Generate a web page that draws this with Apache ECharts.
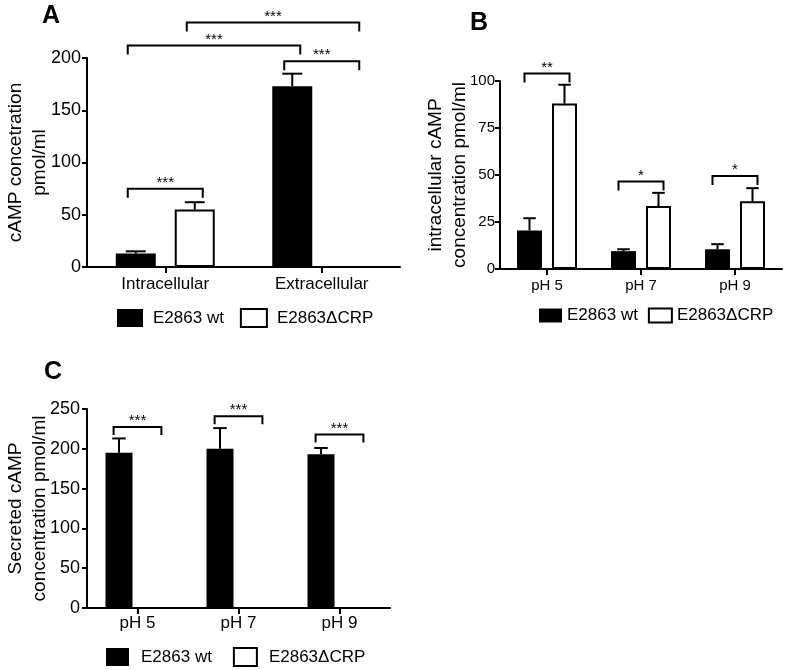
<!DOCTYPE html>
<html>
<head>
<meta charset="utf-8">
<script src="https://cdn.jsdelivr.net/npm/echarts@6/dist/echarts.min.js"></script>
<style>
html,body{margin:0;padding:0;background:#fff;}
#chart{width:789px;height:670px;}
</style>
</head>
<body>
<div id="chart"></div>
<script>
// ---------- data ----------
const seriesNames = ['E2863 wt', 'E2863\u0394CRP'];

// Panel A
const catsA = ['Intracellular', 'Extracellular'];
const wtA = [13, 173];
const wtErrA = [2, 12];
const crpA = [55, 0];
const crpErrA = [7, 0];
const ticksA = [0, 50, 100, 150, 200];
// significance: [fromCat, fromSeries, toCat, toSeries, level, label]
const sigA = [
  [0, 0, 0, 1, 75, '***'],
  [0, 0, 1, 0, 212, '***'],
  [0, 1, 1, 1, 234, '***'],
  [1, 0, 1, 1, 197, '***']
];

// Panel B
const catsB = ['pH 5', 'pH 7', 'pH 9'];
const wtB = [20.5, 9.5, 10.5];
const wtErrB = [6.5, 1, 2.7];
const crpB = [88, 33.5, 36];
const crpErrB = [10, 7, 7];
const ticksB = [0, 25, 50, 75, 100];
const sigB = [
  [0, 0, 0, 1, 104, '**'],
  [1, 0, 1, 1, 46.5, '*'],
  [2, 0, 2, 1, 49.5, '*']
];

// Panel C
const catsC = ['pH 5', 'pH 7', 'pH 9'];
const wtC = [195, 200, 193];
const wtErrC = [18, 26, 8];
const crpC = [0, 0, 0];
const crpErrC = [0, 0, 0];
const ticksC = [0, 50, 100, 150, 200, 250];
const sigC = [
  [0, 0, 0, 1, 227.5, '***'],
  [1, 0, 1, 1, 241, '***'],
  [2, 0, 2, 1, 218, '***']
];

// ---------- helpers ----------
const FONT = 'Liberation Sans, Arial, Helvetica, sans-serif';
const BLACK = '#000';

function errData(wt, wtErr, crp, crpErr) {
  const d = [];
  wt.forEach((v, i) => d.push([i, 0, v, wtErr[i]]));
  crp.forEach((v, i) => d.push([i, 1, v, crpErr[i]]));
  return d;
}

function errRender(w, gap) {
  return function (params, api) {
    const cat = api.value(0), s = api.value(1), v = api.value(2), e = api.value(3);
    if (!e) return null;
    const base = api.coord([cat, v]);
    const top = api.coord([cat, v + e]);
    const x = base[0] + (s === 0 ? -1 : 1) * (w + gap) / 2;
    const half = w / 4;
    return {
      type: 'group',
      children: [
        {type: 'line', shape: {x1: x, y1: base[1], x2: x, y2: top[1]}, style: {stroke: BLACK, lineWidth: 2}},
        {type: 'line', shape: {x1: x - half, y1: top[1], x2: x + half, y2: top[1]}, style: {stroke: BLACK, lineWidth: 2}}
      ]
    };
  };
}

function sigRender(w, gap, drop, labels) {
  return function (params, api) {
    const c0 = api.value(0), s0 = api.value(1), c1 = api.value(2), s1 = api.value(3), lv = api.value(4);
    const off = (w + gap) / 2;
    const ext = w * 0.2;
    const p0 = api.coord([c0, lv]);
    const p1 = api.coord([c1, lv]);
    const x0 = p0[0] + (s0 === 0 ? -off : off) - ext;
    const x1 = p1[0] + (s1 === 0 ? -off : off) + ext;
    const y = p0[1];
    return {
      type: 'group',
      children: [
        {type: 'polyline', shape: {points: [[x0, y + drop], [x0, y], [x1, y], [x1, y + drop]]},
          style: {stroke: BLACK, lineWidth: 2, fill: null}},
        {type: 'text', x: (x0 + x1) / 2, y: y - 6,
          style: {text: labels[params.dataIndex], fill: BLACK, font: '15px ' + FONT, align: 'center', verticalAlign: 'middle'}}
      ]
    };
  };
}

function xAx(idx, cats, fontSize, margin) {
  return {
    type: 'category', gridIndex: idx, data: cats,
    axisLine: {lineStyle: {color: BLACK, width: 2}},
    axisTick: {show: true, alignWithLabel: true, length: 6, lineStyle: {color: BLACK, width: 2}},
    axisLabel: {color: BLACK, fontSize: fontSize, fontFamily: FONT, margin: margin, interval: 0},
    splitLine: {show: false}
  };
}

function yAx(idx, ticks, name, nameGap, fontSize, margin) {
  return {
    type: 'value', gridIndex: idx,
    min: ticks[0], max: ticks[ticks.length - 1], interval: ticks[1] - ticks[0],
    name: name, nameLocation: 'middle', nameGap: nameGap, nameRotate: 90,
    nameMoveOverlap: false,
    nameTextStyle: {color: BLACK, fontSize: 19, fontFamily: FONT, lineHeight: 24},
    axisLine: {show: true, lineStyle: {color: BLACK, width: 2}},
    axisTick: {show: true, length: 5, lineStyle: {color: BLACK, width: 2}},
    axisLabel: {color: BLACK, fontSize: fontSize, fontFamily: FONT, margin: margin},
    splitLine: {show: false}
  };
}

function barSeries(idx, wt, crp, w, gap) {
  return [
    {name: seriesNames[0], type: 'bar', xAxisIndex: idx, yAxisIndex: idx, data: wt,
      barWidth: w, barGap: (gap / w * 100) + '%',
      itemStyle: {color: BLACK, borderColor: BLACK, borderWidth: 0}, silent: true},
    {name: seriesNames[1], type: 'bar', xAxisIndex: idx, yAxisIndex: idx, data: crp,
      barWidth: w, barGap: (gap / w * 100) + '%',
      itemStyle: {color: '#fff', borderColor: BLACK, borderWidth: 2}, silent: true}
  ];
}

function extraSeries(idx, ed, sig, w, gap, drop) {
  return [
    {type: 'custom', name: 'err' + idx, xAxisIndex: idx, yAxisIndex: idx, data: ed,
      encode: {x: 0, y: 2}, renderItem: errRender(w, gap), z: 5, silent: true},
    {type: 'custom', name: 'sig' + idx, xAxisIndex: idx, yAxisIndex: idx,
      data: sig.map(r => r.slice(0, 5)), encode: {x: 0, y: 4},
      renderItem: sigRender(w, gap, drop, sig.map(r => r[5])), z: 5, silent: true}
  ];
}

function legendAt(left, top, iw, ih, gap, textPad) {
  return {
    data: seriesNames, left: left, top: top, orient: 'horizontal', padding: 0,
    itemWidth: iw, itemHeight: ih, itemGap: gap, icon: 'rect', selectedMode: false,
    textStyle: {color: BLACK, fontSize: 17, fontFamily: FONT, padding: [0, 0, 0, textPad]}
  };
}

const WA = 40, GA = 19, WB = 25, GB = 10, WC = 27, GC = 10;

const option = {
  animation: false,
  backgroundColor: '#fff',
  title: [
    {text: 'A', left: 42, top: 4, padding: 0, textStyle: {fontSize: 25, fontWeight: 'bold', color: BLACK, fontFamily: FONT}},
    {text: 'B', left: 470, top: 11, padding: 0, textStyle: {fontSize: 25, fontWeight: 'bold', color: BLACK, fontFamily: FONT}},
    {text: 'C', left: 44, top: 360, padding: 0, textStyle: {fontSize: 25, fontWeight: 'bold', color: BLACK, fontFamily: FONT}}
  ],
  grid: [
    {left: 87, top: 58, width: 313, height: 209, outerBoundsMode: 'none'},
    {left: 500, top: 81, width: 282, height: 188, outerBoundsMode: 'none'},
    {left: 87, top: 409, width: 303, height: 199, outerBoundsMode: 'none'}
  ],
  xAxis: [
    xAx(0, catsA, 17, 9),
    xAx(1, catsB, 15, 9),
    xAx(2, catsC, 17, 7)
  ],
  yAxis: [
    yAx(0, ticksA, 'cAMP concetration\npmol/ml', 35, 18, 6),
    yAx(1, ticksB, 'intracellular cAMP\nconcentration pmol/ml', 28, 15, 5),
    yAx(2, ticksC, 'Secreted cAMP\nconcentration pmol/ml', 35, 18, 7)
  ],
  legend: [
    legendAt(117, 308, 26, 18, 16, 5),
    legendAt(539, 307, 23, 14, 10, 0),
    legendAt(106, 647, 23, 18, 21, 7)
  ],
  series: [].concat(
    barSeries(0, wtA, crpA, WA, GA),
    extraSeries(0, errData(wtA, wtErrA, crpA, crpErrA), sigA, WA, GA, 9),
    barSeries(1, wtB, crpB, WB, GB),
    extraSeries(1, errData(wtB, wtErrB, crpB, crpErrB), sigB, WB, GB, 9),
    barSeries(2, wtC, crpC, WC, GC),
    extraSeries(2, errData(wtC, wtErrC, crpC, crpErrC), sigC, WC, GC, 8)
  )
};

const chart = echarts.init(document.getElementById('chart'), null, {renderer: 'canvas'});
chart.setOption(option);
</script>
</body>
</html>
